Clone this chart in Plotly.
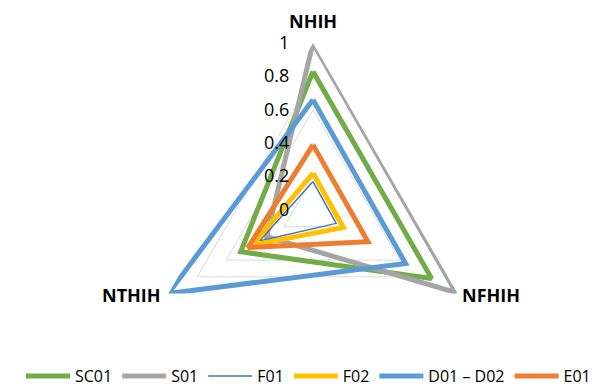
import math
import plotly.graph_objects as go

categories = ["NHIH", "NFHIH", "NTHIH"]
series_names = ["SC01", "S01", "F01", "F02", "D01 – D02", "E01"]
sc01 = [0.83, 0.82, 0.50]
s01 = [1.00, 0.99, 0.32]
f01 = [0.17, 0.16, 0.37]
f02 = [0.22, 0.21, 0.42]
d01_d02 = [0.66, 0.64, 1.00]
e01 = [0.39, 0.38, 0.45]
tick_vals = [0, 0.2, 0.4, 0.6, 0.8, 1]
tick_text = ["0", "0.2", "0.4", "0.6", "0.8", "1"]

series_values = [sc01, s01, f01, f02, d01_d02, e01]
colors = ["#70AD47", "#A5A5A5", "#4472C4", "#FFC000", "#5B9BD5", "#ED7D31"]
widths = [5, 5, 1.5, 5, 5, 5]

fig = go.Figure()
for name, vals, col, w in zip(series_names, series_values, colors, widths):
    fig.add_trace(go.Scatterpolar(
        r=vals + [vals[0]],
        theta=categories + [categories[0]],
        mode="lines",
        name=name,
        line=dict(color=col, width=w),
    ))

# the page body has an 8px margin, so the figure is sized to fit the window
W, H = 601, 378
cx, cy, R = 305, 202, 167

# category labels placed just outside each polygon vertex
label_styles = [
    dict(xanchor="center", yanchor="bottom", xshift=0, yshift=8),
    dict(xanchor="left", yanchor="middle", xshift=2, yshift=-1),
    dict(xanchor="right", yanchor="middle", xshift=-5, yshift=-1),
]
annotations = []
for i, (cat, st) in enumerate(zip(categories, label_styles)):
    ang = math.radians(90 - 120 * i)
    px = cx + R * math.cos(ang)
    py = cy - R * math.sin(ang)
    annotations.append(dict(
        x=px / W, y=1 - py / H, xref="paper", yref="paper",
        text=f"<b>{cat}</b>", showarrow=False,
        font=dict(size=18, color="#000000", family="Open Sans"),
        **st,
    ))

fig.update_layout(
    width=W, height=H,
    margin=dict(l=0, r=0, t=0, b=0, autoexpand=False),
    paper_bgcolor="white",
    plot_bgcolor="white",
    font=dict(family="Open Sans, Calibri, sans-serif", color="#000000"),
    polar=dict(
        domain=dict(x=[(cx - R) / W, (cx + R) / W], y=[1 - (cy + R) / H, 1 - (cy - R) / H]),
        gridshape="linear",
        bgcolor="white",
        radialaxis=dict(
            range=[0, 1],
            tickvals=tick_vals,
            ticktext=tick_text,
            angle=90,
            tickangle=90,
            side="counterclockwise",
            showline=False,
            ticks="outside",
            ticklen=17,
            tickcolor="rgba(0,0,0,0)",
            gridcolor="#D9D9D9",
            gridwidth=1.3,
            tickfont=dict(size=18, color="#000000"),
        ),
        angularaxis=dict(
            direction="clockwise",
            rotation=90,
            showgrid=False,
            showline=False,
            ticks="",
            showticklabels=False,
        ),
    ),
    annotations=annotations,
    showlegend=True,
    legend=dict(
        orientation="h",
        x=0.5, xanchor="center",
        y=1 - 368 / H, yanchor="middle",
        font=dict(size=16, color="#000000"),
        itemwidth=44,
        tracegroupgap=0,
    ),
)

fig.write_html("out.html")
